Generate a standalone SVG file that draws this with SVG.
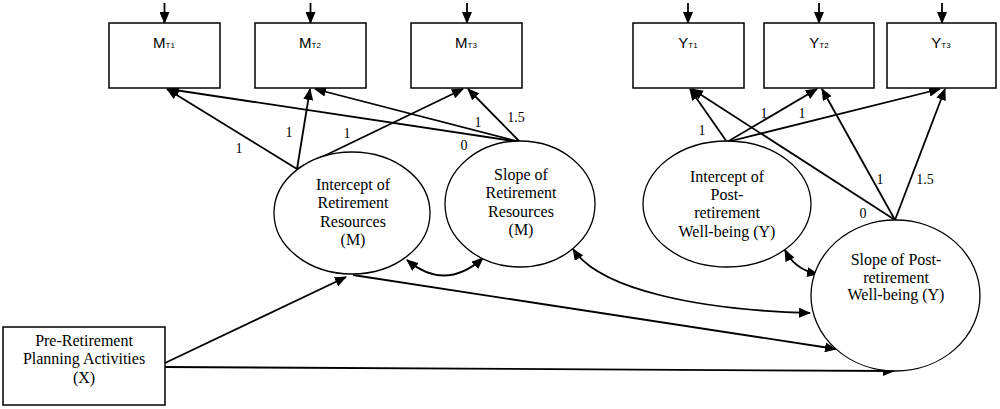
<svg xmlns="http://www.w3.org/2000/svg" width="1000" height="409" viewBox="0 0 1000 409">
<defs>
<marker id="ah" markerUnits="userSpaceOnUse" markerWidth="12" markerHeight="10" refX="11" refY="5" orient="auto-start-reverse">
<path d="M0,0 L12,5 L0,10 z" fill="#000"/>
</marker>
<style>
.box{fill:#fff;stroke:#000;stroke-width:1.5}
.ell{fill:#fff;stroke:#000;stroke-width:1.3}
.ln{fill:none;stroke:#000;stroke-width:1.8;marker-end:url(#ah)}
.dbl{fill:none;stroke:#000;stroke-width:1.8;marker-start:url(#ah);marker-end:url(#ah)}
.sans{font-family:"Liberation Sans",Arial,sans-serif;fill:#000;font-size:16px}
.serif{font-family:"Liberation Serif","Times New Roman",serif;font-size:16px;fill:#000;text-anchor:middle}
.num{font-family:"Liberation Serif","Times New Roman",serif;font-size:14px;fill:#000;text-anchor:middle}
</style>
</defs>
<rect width="1000" height="409" fill="#fff"/>

<g id="connectors">
<line class="ln" x1="164.5" y1="3" x2="164.5" y2="23"/>
<line class="ln" x1="310.5" y1="3" x2="310.5" y2="23"/>
<line class="ln" x1="467" y1="3" x2="467" y2="23"/>
<line class="ln" x1="688" y1="3" x2="688" y2="23"/>
<line class="ln" x1="819" y1="3" x2="819" y2="23"/>
<line class="ln" x1="942" y1="3" x2="942" y2="23"/>

<line class="ln" x1="297" y1="169" x2="167" y2="89"/>
<line class="ln" x1="297" y1="169" x2="310" y2="89"/>
<line class="ln" x1="297" y1="169" x2="463" y2="89"/>
<line class="ln" x1="520" y1="142" x2="168" y2="89"/>
<line class="ln" x1="520" y1="142" x2="315" y2="89"/>
<line class="ln" x1="520" y1="142" x2="468" y2="89"/>

<line class="ln" x1="727" y1="142" x2="690" y2="89"/>
<line class="ln" x1="727" y1="142" x2="817" y2="89"/>
<line class="ln" x1="727" y1="142" x2="940" y2="89"/>
<line class="ln" x1="895" y1="220" x2="692" y2="89"/>
<line class="ln" x1="895" y1="220" x2="822" y2="89"/>
<line class="ln" x1="895" y1="220" x2="945" y2="89"/>

<path class="dbl" d="M407,260 Q445,292 483,258"/>
<path class="dbl" d="M573,249 C600,290 700,310 810,313"/>
<path class="dbl" d="M785,250 Q795,270 818,274"/>

<line class="ln" x1="353" y1="275" x2="836" y2="349"/>
<line class="ln" x1="165" y1="363" x2="346" y2="277"/>
<line class="ln" x1="165" y1="367" x2="894" y2="371"/>
</g>

<g id="MT1"><rect class="box" x="109" y="23" width="111" height="65"/><text class="sans" x="164" y="48" text-anchor="middle"><tspan font-size="15">M</tspan><tspan font-size="8">T1</tspan></text></g>
<g id="MT2"><rect class="box" x="255" y="23" width="111" height="65"/><text class="sans" x="310" y="48" text-anchor="middle"><tspan font-size="15">M</tspan><tspan font-size="8">T2</tspan></text></g>
<g id="MT3"><rect class="box" x="411" y="23" width="111" height="65"/><text class="sans" x="466" y="48" text-anchor="middle"><tspan font-size="15">M</tspan><tspan font-size="8">T3</tspan></text></g>
<g id="YT1"><rect class="box" x="633" y="23" width="111" height="65"/><text class="sans" x="688" y="48" text-anchor="middle"><tspan font-size="15">Y</tspan><tspan font-size="8">T1</tspan></text></g>
<g id="YT2"><rect class="box" x="764" y="23" width="110" height="65"/><text class="sans" x="819" y="48" text-anchor="middle"><tspan font-size="15">Y</tspan><tspan font-size="8">T2</tspan></text></g>
<g id="YT3"><rect class="box" x="887" y="23" width="109" height="65"/><text class="sans" x="941" y="48" text-anchor="middle"><tspan font-size="15">Y</tspan><tspan font-size="8">T3</tspan></text></g>

<g id="interceptM"><ellipse class="ell" cx="352" cy="213" rx="78" ry="61"/>
<text class="serif" x="353" y="190">Intercept of</text>
<text class="serif" x="353" y="208">Retirement</text>
<text class="serif" x="353" y="227">Resources</text>
<text class="serif" x="353" y="245">(M)</text></g>

<g id="slopeM"><ellipse class="ell" cx="520" cy="204" rx="75" ry="63"/>
<text class="serif" x="521" y="180">Slope of</text>
<text class="serif" x="521" y="198">Retirement</text>
<text class="serif" x="521" y="217">Resources</text>
<text class="serif" x="521" y="235">(M)</text></g>

<g id="interceptY"><ellipse class="ell" cx="727" cy="204" rx="84" ry="63"/>
<text class="serif" x="727" y="182">Intercept of</text>
<text class="serif" x="727" y="200">Post-</text>
<text class="serif" x="727" y="218">retirement</text>
<text class="serif" x="727" y="237">Well-being (Y)</text></g>

<g id="slopeY"><ellipse class="ell" cx="895.5" cy="295.5" rx="84.5" ry="75.5"/>
<text class="serif" x="896" y="265">Slope of Post-</text>
<text class="serif" x="896" y="283">retirement</text>
<text class="serif" x="896" y="300">Well-being (Y)</text></g>

<g id="preX"><rect class="box" x="3" y="327" width="162" height="78"/>
<text class="serif" x="84" y="346">Pre-Retirement</text>
<text class="serif" x="84" y="364">Planning Activities</text>
<text class="serif" x="84" y="383">(X)</text></g>

<g id="labels">
<text class="num" x="239" y="153">1</text>
<text class="num" x="289" y="137">1</text>
<text class="num" x="347" y="138">1</text>
<text class="num" x="464" y="150">0</text>
<text class="num" x="478" y="127">1</text>
<text class="num" x="516" y="122">1.5</text>
<text class="num" x="702" y="135">1</text>
<text class="num" x="764" y="118">1</text>
<text class="num" x="802" y="118">1</text>
<text class="num" x="863" y="218">0</text>
<text class="num" x="880" y="184">1</text>
<text class="num" x="925" y="184">1.5</text>
</g>
</svg>
